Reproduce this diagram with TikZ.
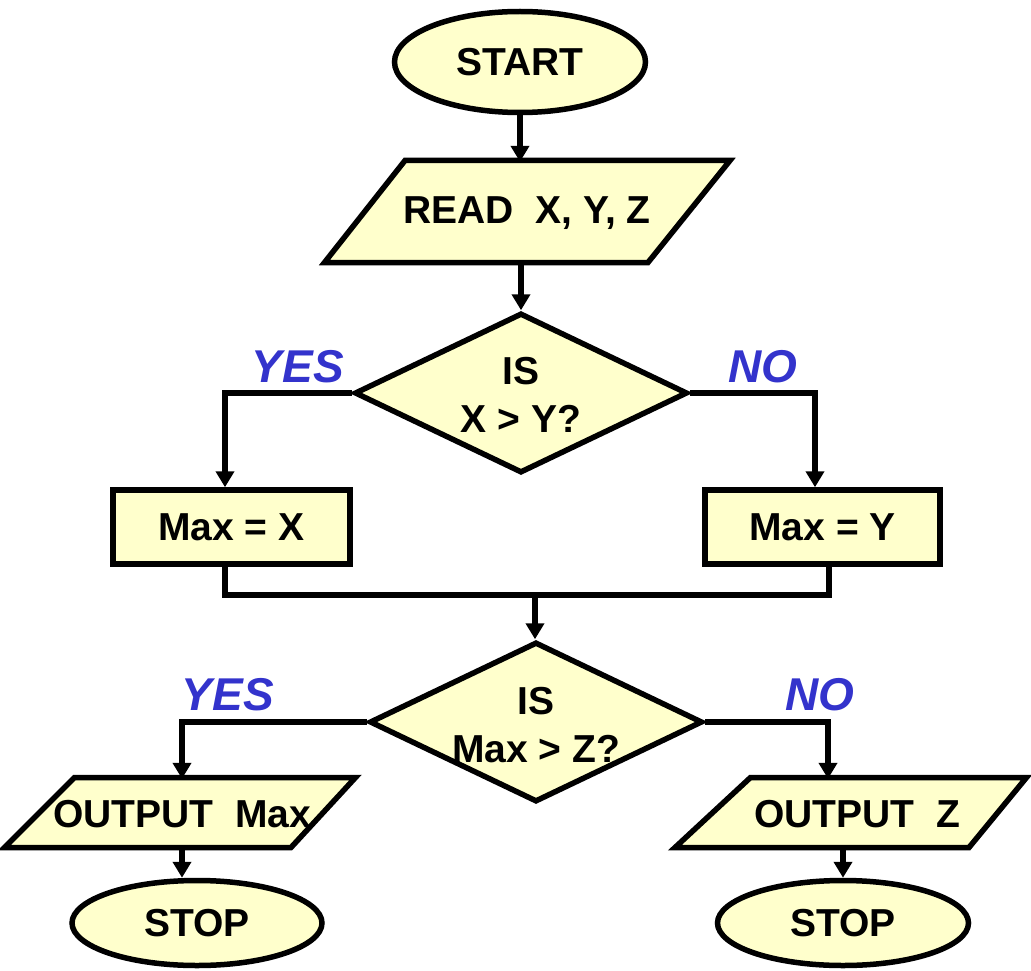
\documentclass[tikz,border=0pt]{standalone}
\usepackage{fontspec}
\setmainfont{Liberation Sans}
\usetikzlibrary{shapes.geometric,arrows.meta}
\definecolor{fillc}{RGB}{255,255,204}
\definecolor{labc}{RGB}{51,51,204}
\begin{document}
\begin{tikzpicture}[x=1pt,y=-1pt,
  every node/.style={font=\fontsize{39}{48}\selectfont\bfseries},
  line/.style={line width=5.5pt},
  arr/.style={line width=5.5pt,-{Triangle[length=16pt,width=18pt]}},
  shapeline/.style={draw,line width=5.5pt,fill=fillc,line join=miter},
  term/.style={ellipse,shapeline,inner sep=0pt},
  proc/.style={rectangle,shapeline,inner sep=0pt},
  dec/.style={diamond,shapeline,inner sep=0pt},
  io/.style={rectangle,inner sep=0pt},
  txt/.style={align=center,inner sep=0pt},
  lab/.style={font=\fontsize{46}{50}\selectfont\bfseries\itshape,text=labc,inner sep=0pt}]
\useasboundingbox (0,0) rectangle (1031,971);

% terminals
\node[term,minimum width=251pt,minimum height=101pt] (start) at (520,62) {START};

% input parallelogram
\filldraw[shapeline] (405,160.5) -- (730,160.5) -- (648,262.5) -- (324.5,262.5) -- cycle;
\node[io,minimum width=250pt,minimum height=102pt] (read) at (527,213) {READ\ \ X, Y, Z};

% decision 1
\node[dec,minimum width=333pt,minimum height=160pt] (d1) at (521,393) {};
\node[txt] (d1t) at (521,395) {IS\\X > Y?};

% process boxes
\node[proc,minimum width=237pt,minimum height=74pt] (mx) at (231.5,527) {Max = X};
\node[proc,minimum width=235pt,minimum height=74pt] (my) at (822.5,527) {Max = Y};

% decision 2
\node[dec,minimum width=333pt,minimum height=160pt] (d2) at (536,722) {};
\node[txt] (d2t) at (536,725) {IS\\Max > Z?};

% outputs
\filldraw[shapeline] (74.5,777.5) -- (355.5,777.5) -- (291,847.5) -- (4.5,847.5) -- cycle;
\node[io,minimum width=260pt,minimum height=70pt] (outmax) at (182,814) {OUTPUT\ \ Max};
\filldraw[shapeline] (750.5,777.5) -- (1026.5,777.5) -- (969,847.5) -- (675,847.5) -- cycle;
\node[io,minimum width=210pt,minimum height=70pt] (outz) at (857,814) {OUTPUT\ \ Z};

% stops
\node[term,minimum width=250pt,minimum height=85pt] (stop1) at (197,923) {STOP};
\node[term,minimum width=251pt,minimum height=85pt] (stop2) at (843,923) {STOP};

% labels
\node[lab] (yes1) at (298,367) {YES};
\node[lab] (no1) at (763,367) {NO};
\node[lab] (yes2) at (228,695) {YES};
\node[lab] (no2) at (820,695) {NO};

% connectors
\coordinate (merge) at (535,595);
\draw[arr] (start.south) -- (start.south |- read.north);
\draw[arr] (d1.north |- read.south) -- (d1.north);
\draw[arr] (d1.west) -| ([xshift=-6.5pt]mx.north);
\draw[arr] (d1.east) -| ([xshift=-7.5pt]my.north);
\draw[line] ([xshift=-6.5pt]mx.south) |- (merge) -| ([xshift=6.5pt]my.south);
\draw[arr] (merge) -- (merge |- d2.north);
\draw[arr] (d2.west) -| (outmax.north);
\draw[arr] (d2.east) -| ([xshift=-29pt]outz.north);
\draw[arr] (outmax.south) -- (outmax.south |- stop1.north);
\draw[arr] (stop2.north |- outz.south) -- (stop2.north);
\end{tikzpicture}
\end{document}
